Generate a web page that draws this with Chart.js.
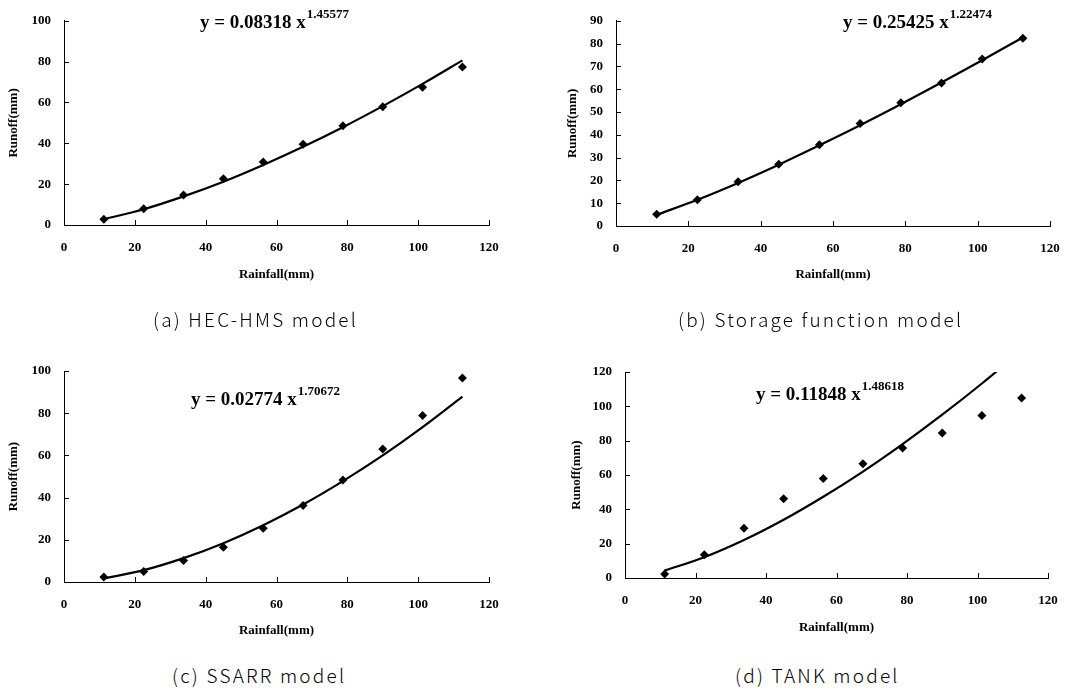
<!DOCTYPE html>
<html>
<head>
<meta charset="utf-8">
<script src="https://cdn.jsdelivr.net/npm/chart.js@4/dist/chart.umd.min.js"></script>
<style>
  body { margin: 0; background: #fff; }
  #page { position: relative; width: 1089px; height: 693px; overflow: hidden; background: #fff; }
  canvas { position: absolute; }
  .cap { position: absolute; font-family: "Noto Sans CJK KR", sans-serif; font-weight: 300; font-size: 19px; letter-spacing: 2.2px; line-height: 20px; color: #000; white-space: nowrap; }
</style>
</head>
<body>
<div id="page">
  <canvas id="hecChart" width="520" height="282" style="left:0;top:0"></canvas>
  <canvas id="storageChart" width="544" height="282" style="left:545px;top:0"></canvas>
  <canvas id="ssarrChart" width="520" height="308" style="left:0;top:330px"></canvas>
  <canvas id="tankChart" width="544" height="305" style="left:545px;top:330px"></canvas>
  <div class="cap" style="left:153px;top:309px">(a) HEC-HMS model</div>
  <div class="cap" style="left:678px;top:309px">(b) Storage function model</div>
  <div class="cap" style="left:172px;top:665px">(c) SSARR model</div>
  <div class="cap" style="left:735px;top:665px">(d) TANK model</div>
</div>
<script>
// rainfall (mm) on the x axis, same for all four models
const rainfall = [11.25, 22.5, 33.75, 45, 56.25, 67.5, 78.75, 90, 101.25, 112.5];

// simulated runoff (mm) and the power-law trend line
const runoffHec = [2.8, 7.9, 14.7, 22.6, 30.8, 39.6, 48.6, 57.9, 67.5, 77.4];
const trendHec = [2.8, 7.7, 14.0, 21.2, 29.4, 38.3, 47.9, 58.2, 69.1, 80.6];

const runoffStorage = [5.1, 11.5, 19.4, 27.1, 35.6, 45.0, 54.1, 62.7, 73.3, 82.3];
const trendStorage = [4.9, 11.5, 18.9, 26.9, 35.4, 44.2, 53.4, 62.9, 72.7, 82.7];

const runoffSsarr = [2.4, 5.0, 10.2, 16.5, 25.5, 36.2, 48.3, 63.0, 78.9, 96.7];
const trendSsarr = [1.7, 5.6, 11.3, 18.4, 26.9, 36.7, 47.8, 60.0, 73.4, 87.9];

const runoffTank = [2.3, 13.5, 29.0, 46.1, 57.9, 66.6, 75.7, 84.4, 94.6, 104.9];
const trendTank = [4.3, 12.1, 22.1, 33.9, 47.3, 62.0, 78.0, 95.1, 113.3, 132.5];

// fitted equations: coefficient and exponent
const eqHec = ['y = 0.08318 x', '1.45577'];
const eqStorage = ['y = 0.25425 x', '1.22474'];
const eqSsarr = ['y = 0.02774 x', '1.70672'];
const eqTank = ['y = 0.11848 x', '1.48618'];

const serif = 'Liberation Serif';
const axisFont = { family: serif, size: 13, weight: 'bold' };

// tick marks drawn on the inside of the axes
const innerTicks = {
  id: 'innerTicks',
  afterDraw(chart) {
    const { ctx, chartArea: a, scales: { x, y } } = chart;
    ctx.save();
    ctx.strokeStyle = '#000';
    ctx.lineWidth = 1;
    ctx.beginPath();
    x.ticks.forEach(t => {
      const px = Math.round(x.getPixelForValue(t.value)) + 0.5;
      ctx.moveTo(px, a.bottom);
      ctx.lineTo(px, a.bottom - 5);
    });
    y.ticks.forEach(t => {
      const py = Math.round(y.getPixelForValue(t.value)) + 0.5;
      ctx.moveTo(a.left, py);
      ctx.lineTo(a.left + 5, py);
    });
    ctx.stroke();
    ctx.restore();
  }
};

// equation text box with superscript exponent
const equation = {
  id: 'equation',
  afterDraw(chart, args, opts) {
    const ctx = chart.ctx;
    ctx.save();
    ctx.fillStyle = '#000';
    ctx.textBaseline = 'alphabetic';
    ctx.font = 'bold 19px "' + serif + '"';
    ctx.fillText(opts.text[0], opts.x, opts.y);
    const w = ctx.measureText(opts.text[0]).width;
    ctx.font = 'bold 13px "' + serif + '"';
    ctx.fillText(opts.text[1], opts.x + w + 1, opts.y - 10);
    ctx.restore();
  }
};

function makeChart(id, runoff, trend, eq, yMax, yStep, box) {
  return new Chart(document.getElementById(id), {
    type: 'scatter',
    data: {
      datasets: [{
        label: 'Runoff',
        data: rainfall.map((r, i) => ({ x: r, y: runoff[i] })),
        pointStyle: 'rectRot',
        pointRadius: 4.5,
        backgroundColor: '#000',
        borderWidth: 0
      }, {
        label: 'Trend',
        data: rainfall.map((r, i) => ({ x: r, y: trend[i] })),
        showLine: true,
        pointRadius: 0,
        borderColor: '#000',
        borderWidth: 2.2,
        cubicInterpolationMode: 'monotone',
        clip: 0
      }]
    },
    options: {
      responsive: false,
      animation: false,
      layout: { padding: { top: box.top, right: box.right, bottom: 0, left: 0 } },
      plugins: {
        legend: { display: false },
        tooltip: { enabled: false },
        equation: { text: eq, x: box.eqX, y: box.eqY }
      },
      scales: {
        x: {
          type: 'linear',
          min: 0, max: 120,
          ticks: { stepSize: 20, color: '#000', font: axisFont, padding: 15, maxRotation: 0 },
          grid: { display: false, drawTicks: false },
          border: { color: '#000', width: 1 },
          title: { display: true, text: 'Rainfall(mm)', color: '#000', font: axisFont, padding: 0 },
          afterFit: s => { s.height = box.xh; }
        },
        y: {
          type: 'linear',
          min: 0, max: yMax,
          ticks: { stepSize: yStep, color: '#000', font: axisFont, padding: 13 },
          grid: { display: false, drawTicks: false },
          border: { color: '#000', width: 1 },
          title: { display: true, text: 'Runoff(mm)', color: '#000', font: axisFont, padding: { top: box.yt, bottom: 0 } },
          afterFit: s => { s.width = box.yw; }
        }
      }
    },
    plugins: [innerTicks, equation]
  });
}

makeChart('hecChart', runoffHec, trendHec, eqHec, 100, 20,
  { top: 15, right: 31, xh: 57, yw: 64, yt: 6, eqX: 200, eqY: 28 });
makeChart('storageChart', runoffStorage, trendStorage, eqStorage, 90, 10,
  { top: 15, right: 39, xh: 56, yw: 71, yt: 20, eqX: 298, eqY: 28 });
makeChart('ssarrChart', runoffSsarr, trendSsarr, eqSsarr, 100, 20,
  { top: 41, right: 31, xh: 56, yw: 64, yt: 6, eqX: 191, eqY: 75 });
makeChart('tankChart', runoffTank, trendTank, eqTank, 120, 20,
  { top: 42, right: 41, xh: 57, yw: 80, yt: 24, eqX: 211, eqY: 70 });
</script>
</body>
</html>
